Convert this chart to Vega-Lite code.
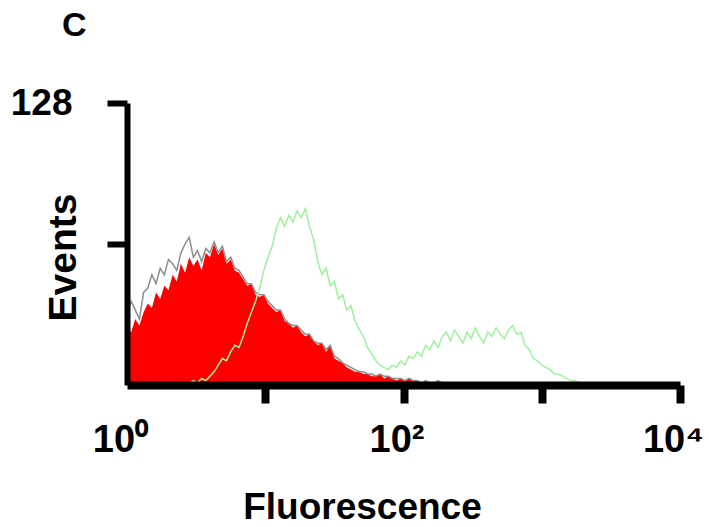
{
  "$schema": "https://vega.github.io/schema/vega-lite/v6.json",
  "width": 553,
  "height": 282,
  "autosize": {"type": "none"},
  "padding": {"left": 127, "top": 103, "right": 29, "bottom": 142},
  "background": "white",
  "title": {"text": "C", "anchor": "start", "frame": "group", "dx": -65, "offset": 41, "fontSize": 34, "fontWeight": "bold", "font": "Liberation Sans", "color": "black"},
  "config": {"view": {"stroke": null}, "axis": {"grid": false}},
  "data": {
    "values": [
      {"x": 0.00, "red": 26, "grey": 32, "green": 0},
      {"x": 0.03, "red": 24, "grey": 38, "green": 0},
      {"x": 0.06, "red": 30, "grey": 34, "green": 0},
      {"x": 0.09, "red": 27, "grey": 30, "green": 0},
      {"x": 0.12, "red": 33, "grey": 42, "green": 0},
      {"x": 0.15, "red": 37, "grey": 44, "green": 0},
      {"x": 0.18, "red": 35, "grey": 50, "green": 0},
      {"x": 0.21, "red": 42, "grey": 46, "green": 0},
      {"x": 0.24, "red": 39, "grey": 53, "green": 0},
      {"x": 0.27, "red": 45, "grey": 50, "green": 0},
      {"x": 0.30, "red": 43, "grey": 57, "green": 0},
      {"x": 0.33, "red": 50, "grey": 55, "green": 0},
      {"x": 0.36, "red": 47, "grey": 52, "green": 0},
      {"x": 0.39, "red": 55, "grey": 60, "green": 0},
      {"x": 0.42, "red": 51, "grey": 64, "green": 1},
      {"x": 0.45, "red": 58, "grey": 67, "green": 1},
      {"x": 0.48, "red": 54, "grey": 58, "green": 2},
      {"x": 0.51, "red": 57, "grey": 61, "green": 1},
      {"x": 0.54, "red": 52, "grey": 56, "green": 3},
      {"x": 0.57, "red": 60, "grey": 62, "green": 2},
      {"x": 0.60, "red": 58, "grey": 60, "green": 4},
      {"x": 0.63, "red": 64, "grey": 65, "green": 6},
      {"x": 0.66, "red": 59, "grey": 60, "green": 9},
      {"x": 0.69, "red": 62, "grey": 63, "green": 12},
      {"x": 0.72, "red": 55, "grey": 56, "green": 11},
      {"x": 0.75, "red": 57, "grey": 58, "green": 15},
      {"x": 0.78, "red": 52, "grey": 53, "green": 18},
      {"x": 0.81, "red": 51, "grey": 52, "green": 17},
      {"x": 0.84, "red": 48, "grey": 49, "green": 22},
      {"x": 0.87, "red": 45, "grey": 46, "green": 28},
      {"x": 0.90, "red": 46, "grey": 46, "green": 33},
      {"x": 0.93, "red": 41, "grey": 42, "green": 38},
      {"x": 0.96, "red": 40, "grey": 41, "green": 44},
      {"x": 0.99, "red": 41, "grey": 41, "green": 52},
      {"x": 1.02, "red": 37, "grey": 38, "green": 58},
      {"x": 1.05, "red": 35, "grey": 36, "green": 63},
      {"x": 1.08, "red": 33, "grey": 34, "green": 71},
      {"x": 1.11, "red": 34, "grey": 34, "green": 76},
      {"x": 1.14, "red": 29, "grey": 30, "green": 72},
      {"x": 1.17, "red": 28, "grey": 28, "green": 77},
      {"x": 1.20, "red": 26, "grey": 27, "green": 74},
      {"x": 1.23, "red": 27, "grey": 27, "green": 79},
      {"x": 1.26, "red": 24, "grey": 25, "green": 76},
      {"x": 1.29, "red": 22, "grey": 23, "green": 80},
      {"x": 1.32, "red": 23, "grey": 23, "green": 72},
      {"x": 1.35, "red": 20, "grey": 20, "green": 66},
      {"x": 1.38, "red": 18, "grey": 19, "green": 56},
      {"x": 1.41, "red": 19, "grey": 19, "green": 50},
      {"x": 1.44, "red": 15, "grey": 16, "green": 53},
      {"x": 1.47, "red": 18, "grey": 18, "green": 45},
      {"x": 1.50, "red": 12, "grey": 13, "green": 47},
      {"x": 1.53, "red": 11, "grey": 12, "green": 39},
      {"x": 1.56, "red": 10, "grey": 10, "green": 41},
      {"x": 1.59, "red": 8, "grey": 9, "green": 34},
      {"x": 1.62, "red": 7, "grey": 8, "green": 36},
      {"x": 1.65, "red": 6, "grey": 7, "green": 29},
      {"x": 1.68, "red": 6, "grey": 6, "green": 25},
      {"x": 1.71, "red": 5, "grey": 6, "green": 22},
      {"x": 1.74, "red": 5, "grey": 5, "green": 17},
      {"x": 1.77, "red": 4, "grey": 5, "green": 14},
      {"x": 1.80, "red": 4, "grey": 4, "green": 11},
      {"x": 1.83, "red": 5, "grey": 5, "green": 9},
      {"x": 1.86, "red": 3, "grey": 4, "green": 8},
      {"x": 1.89, "red": 4, "grey": 4, "green": 7},
      {"x": 1.92, "red": 3, "grey": 3, "green": 9},
      {"x": 1.95, "red": 2, "grey": 3, "green": 8},
      {"x": 1.98, "red": 3, "grey": 3, "green": 11},
      {"x": 2.01, "red": 2, "grey": 2, "green": 9},
      {"x": 2.04, "red": 3, "grey": 3, "green": 13},
      {"x": 2.07, "red": 2, "grey": 2, "green": 12},
      {"x": 2.10, "red": 2, "grey": 2, "green": 15},
      {"x": 2.13, "red": 1, "grey": 1, "green": 13},
      {"x": 2.16, "red": 2, "grey": 2, "green": 18},
      {"x": 2.19, "red": 1, "grey": 1, "green": 16},
      {"x": 2.22, "red": 1, "grey": 1, "green": 20},
      {"x": 2.25, "red": 2, "grey": 2, "green": 17},
      {"x": 2.28, "red": 1, "grey": 1, "green": 22},
      {"x": 2.31, "red": 1, "grey": 1, "green": 24},
      {"x": 2.34, "red": 1, "grey": 1, "green": 20},
      {"x": 2.37, "red": 0, "grey": 0, "green": 25},
      {"x": 2.40, "red": 0, "grey": 0, "green": 22},
      {"x": 2.43, "red": 0, "grey": 0, "green": 19},
      {"x": 2.46, "red": 0, "grey": 0, "green": 24},
      {"x": 2.49, "red": 0, "grey": 0, "green": 21},
      {"x": 2.52, "red": 0, "grey": 0, "green": 26},
      {"x": 2.55, "red": 0, "grey": 0, "green": 22},
      {"x": 2.58, "red": 0, "grey": 0, "green": 19},
      {"x": 2.61, "red": 0, "grey": 0, "green": 24},
      {"x": 2.64, "red": 0, "grey": 0, "green": 22},
      {"x": 2.67, "red": 0, "grey": 0, "green": 26},
      {"x": 2.70, "red": 0, "grey": 0, "green": 23},
      {"x": 2.73, "red": 0, "grey": 0, "green": 21},
      {"x": 2.76, "red": 0, "grey": 0, "green": 25},
      {"x": 2.79, "red": 0, "grey": 0, "green": 27},
      {"x": 2.82, "red": 0, "grey": 0, "green": 23},
      {"x": 2.85, "red": 0, "grey": 0, "green": 24},
      {"x": 2.88, "red": 0, "grey": 0, "green": 18},
      {"x": 2.91, "red": 0, "grey": 0, "green": 16},
      {"x": 2.94, "red": 0, "grey": 0, "green": 12},
      {"x": 2.97, "red": 0, "grey": 0, "green": 11},
      {"x": 3.00, "red": 0, "grey": 0, "green": 9},
      {"x": 3.03, "red": 0, "grey": 0, "green": 8},
      {"x": 3.06, "red": 0, "grey": 0, "green": 7},
      {"x": 3.09, "red": 0, "grey": 0, "green": 5},
      {"x": 3.12, "red": 0, "grey": 0, "green": 5},
      {"x": 3.15, "red": 0, "grey": 0, "green": 4},
      {"x": 3.18, "red": 0, "grey": 0, "green": 3},
      {"x": 3.21, "red": 0, "grey": 0, "green": 2},
      {"x": 3.24, "red": 0, "grey": 0, "green": 2},
      {"x": 3.27, "red": 0, "grey": 0, "green": 1},
      {"x": 3.30, "red": 0, "grey": 0, "green": 1},
      {"x": 3.33, "red": 0, "grey": 0, "green": 0}
    ]
  },
  "encoding": {
    "x": {
      "field": "x",
      "type": "quantitative",
      "scale": {"domain": [0, 4], "nice": false, "zero": false},
      "axis": {
        "zindex": 1,
        "values": [0, 1, 2, 3, 4],
        "labelExpr": "datum.value == 0 ? '10⁰' : datum.value == 2 ? '10²' : datum.value == 4 ? '10⁴' : ''",
        "domainWidth": 8,
        "domainColor": "black",
        "tickWidth": 8,
        "tickSize": 18,
        "tickColor": {"condition": {"test": "datum.value == 0", "value": "transparent"}, "value": "black"},
        "labelFont": "Liberation Sans",
        "labelFontSize": 38,
        "labelFontWeight": "bold",
        "labelColor": "black",
        "labelPadding": 18,
        "labelOffset": -7,
        "labelFlush": false,
        "labelOverlap": false,
        "title": "Fluorescence",
        "titleFont": "Liberation Sans",
        "titleFontSize": 37,
        "titleFontWeight": "bold",
        "titleColor": "black",
        "titleX": 235,
        "titleY": 133,
        "titleBaseline": "alphabetic"
      }
    }
  },
  "layer": [
    {
      "mark": {"type": "area", "color": "#ff0000"},
      "encoding": {
        "y": {
          "field": "red",
          "type": "quantitative",
          "scale": {"domain": [0, 128], "nice": false},
          "axis": {
            "zindex": 1,
            "values": [64, 128],
            "labelExpr": "datum.value == 128 ? '128' : ''",
            "domainWidth": 6,
            "domainColor": "black",
            "tickWidth": 6,
            "tickSize": 20,
            "tickColor": "black",
            "labelFont": "Liberation Sans",
            "labelFontSize": 37,
            "labelFontWeight": "bold",
            "labelColor": "black",
            "labelPadding": 35,
            "labelOverlap": false,
            "labelFlush": false,
            "title": "Events",
            "titleFont": "Liberation Sans",
            "titleFontSize": 39,
            "titleFontWeight": "bold",
            "titleColor": "black",
            "titleX": -52,
            "titleY": 154,
            "titleBaseline": "alphabetic"
          }
        }
      }
    },
    {
      "mark": {"type": "line", "color": "#8c8c8c", "strokeWidth": 1.5},
      "encoding": {"y": {"field": "grey", "type": "quantitative"}}
    },
    {
      "mark": {"type": "line", "color": "#9df09d", "strokeWidth": 1.5},
      "encoding": {"y": {"field": "green", "type": "quantitative"}}
    }
  ]
}
